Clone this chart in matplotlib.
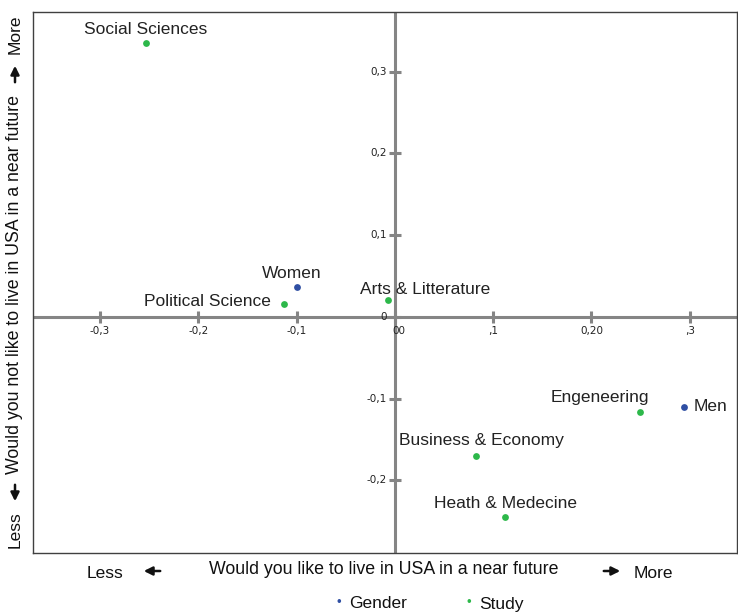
import matplotlib.pyplot as plt
import numpy as np

# Correspondence map values

labels = ["Social Sciences", "Women", "Political Science", "Arts & Litterature",
          "Engeneering", "Men", "Business & Economy", "Heath & Medecine"]
x_vals = [-0.253, -0.099, -0.113, -0.007, 0.249, 0.294, 0.083, 0.112]
y_vals = [0.335, 0.036, 0.016, 0.020, -0.116, -0.110, -0.170, -0.245]
groups = ["Study", "Gender", "Study", "Study", "Study", "Gender", "Study", "Study"]

x_ticks = [-0.3, -0.2, -0.1, 0.0, 0.1, 0.2, 0.3]
x_tick_labels = ["-0,3", "-0,2", "-0,1", "00", ",1", "0,20", ",3"]
y_ticks = [0.3, 0.2, 0.1, 0.0, -0.1, -0.2]
y_tick_labels = ["0,3", "0,2", "0,1", "0", "-0,1", "-0,2"]

colors = {"Gender": "#2f4fa3", "Study": "#2db84a"}

W, H = 738, 613

def fx(px):
	return px / W

def fy(py):
	return 1 - py / H

plt.rcParams['font.family'] = ['Liberation Sans', 'DejaVu Sans']

fig = plt.figure(figsize=(W / 100, H / 100), dpi=100)
ax = fig.add_axes([fx(33), fy(553), fx(737) - fx(33), fy(12) - fy(553)])
ax.set_xlim(-0.368, 0.348)
ax.set_ylim(-0.289, 0.373)

for s in ax.spines.values():
	s.set_color("#404040")
	s.set_linewidth(1.0)
ax.set_xticks([])
ax.set_yticks([])

grey = "#858585"
ax.axhline(0, color=grey, lw=2.2, zorder=1)
ax.axvline(0, color=grey, lw=2.2, zorder=1)

# tick marks crossing the centre lines
ax.plot(x_ticks, [0] * len(x_ticks), ls="none", marker="|", ms=9, mew=2.2, color=grey, zorder=1)
ax.plot([0] * len(y_ticks), y_ticks, ls="none", marker="_", ms=9, mew=2.2, color=grey, zorder=1)

for t, lab in zip(x_ticks, x_tick_labels):
	off = 0.004 if t == 0 else 0
	ax.text(t + off, -0.011, lab, ha="center", va="top", fontsize=7.5, family="DejaVu Sans", color="#222222")
for t, lab in zip(y_ticks, y_tick_labels):
	ax.text(-0.008, t, lab, ha="right", va="center", fontsize=7.5, family="DejaVu Sans", color="#222222")

for g in ["Gender", "Study"]:
	xs = [x for x, gg in zip(x_vals, groups) if gg == g]
	ys = [y for y, gg in zip(y_vals, groups) if gg == g]
	ax.scatter(xs, ys, s=24, color=colors[g], zorder=3, linewidths=0)

# label offsets in points: (dx, dy, ha)
label_pos = {
	"Social Sciences": (0, 9.4, "center"),
	"Women": (-4.3, 10, "center"),
	"Political Science": (-9.4, 1.4, "right"),
	"Arts & Litterature": (-20, 8, "left"),
	"Engeneering": (7, 10, "right"),
	"Men": (7, 0, "left"),
	"Business & Economy": (-56, 11, "left"),
	"Heath & Medecine": (-51, 9.4, "left"),
}
for lab, x, y in zip(labels, x_vals, y_vals):
	dx, dy, ha = label_pos[lab]
	ax.annotate(lab, (x, y), xytext=(dx, dy), textcoords="offset points",
		ha=ha, va="center", fontsize=12.5, color="#222222")

# axis titles with arrows
txt = "#111111"
fig.text(fx(384), fy(569), "Would you like to live in USA in a near future", ha="center", va="center", fontsize=12.8, color=txt)
fig.text(fx(105), fy(573), "Less", ha="center", va="center", fontsize=12.5, color=txt)
fig.text(fx(653), fy(573), "More", ha="center", va="center", fontsize=12.5, color=txt)
fig.text(fx(15), fy(285), "Would you not like to live in USA in a near future", ha="center", va="center",
	rotation=90, fontsize=12.8, color=txt)
fig.text(fx(15), fy(530), "Less", ha="center", va="center", rotation=90, fontsize=12.5, color=txt)
fig.text(fx(15), fy(34), "More", ha="center", va="center", rotation=90, fontsize=12.5, color=txt)

arrows = [((163, 571), (141, 571)), ((601, 571), (623, 571)),
	((15, 85), (15, 63)), ((15, 482), (15, 504))]
for (x0, y0), (x1, y1) in arrows:
	fig.add_artist(plt.Annotation("", xy=(fx(x1), fy(y1)), xytext=(fx(x0), fy(y0)),
		xycoords="figure fraction", textcoords="figure fraction",
		arrowprops=dict(arrowstyle="-|>,head_length=0.5,head_width=0.25", lw=1.8, color="#111111")))

# legend
for g, px in [("Gender", 339), ("Study", 469)]:
	fig.text(fx(px), fy(603), "\u2022", ha="center", va="center", fontsize=9.5, color=colors[g])
	fig.text(fx(px + 10), fy(604), g, ha="left", va="center", fontsize=12.5, color=txt)

fig.savefig("out.png", dpi=100)
